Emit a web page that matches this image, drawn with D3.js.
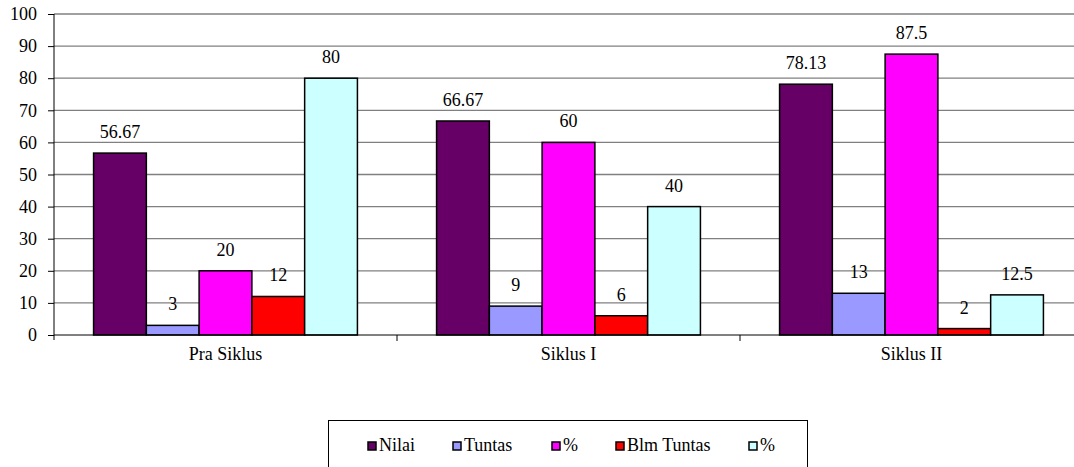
<!DOCTYPE html>
<html><head><meta charset="utf-8">
<script src="https://cdn.jsdelivr.net/npm/d3@7"></script>
</head><body style="margin:0;background:#fff"><svg id="c" width="1074" height="467" style="display:block"></svg>
<script>
const categories = ["Pra Siklus", "Siklus I", "Siklus II"];
const seriesNames = ["Nilai", "Tuntas", "%", "Blm Tuntas", "%"];
const seriesColors = ["#660066", "#9999FF", "#FF00FF", "#FF0000", "#CCFFFF"];
const nilai = [56.67, 66.67, 78.13];
const tuntas = [3, 9, 13];
const pctTuntas = [20, 60, 87.5];
const blmTuntas = [12, 6, 2];
const pctBlm = [80, 40, 12.5];
const yTicks = [0, 10, 20, 30, 40, 50, 60, 70, 80, 90, 100];
const seriesValues = [nilai, tuntas, pctTuntas, blmTuntas, pctBlm];

(function () {
const FONT = '"Liberation Serif"';
const FS = "18px";
const svg = d3.select("#c");
const pL = 54, pR = 1083, pT = 14, pB = 335;
const x0 = d3.scaleBand().domain(categories).range([pL, pR]).paddingInner(0).paddingOuter(0);
const x1 = d3.scaleBand().domain(d3.range(seriesNames.length)).range([0, x0.bandwidth()]).paddingOuter(0.75).paddingInner(0);
const y = d3.scaleLinear().domain([0, 100]).range([pB, pT]);

// gridlines
svg.append("g").selectAll("line").data(yTicks.filter(d => d > 0)).join("line")
  .attr("x1", pL).attr("x2", pR).attr("y1", d => y(d)).attr("y2", d => y(d))
  .attr("stroke", "#808080").attr("stroke-width", 1.3);

// y axis
const ya = svg.append("g").attr("transform", `translate(${pL},0)`)
  .call(d3.axisLeft(y).tickValues(yTicks).tickSize(6).tickPadding(11));
ya.attr("font-family", null).attr("font-size", null);
ya.select(".domain").remove();
ya.selectAll("line").attr("stroke", "#000");
ya.selectAll("text").style("font-family", FONT).style("font-size", FS).attr("fill", "#000");
svg.append("line").attr("x1", pL).attr("x2", pL).attr("y1", pT).attr("y2", pB + 5).attr("stroke", "#000").attr("stroke-width", 1);

// bars
const rows = [];
categories.forEach((c, ci) => seriesValues.forEach((s, si) => rows.push({c, si, v: s[ci]})));
const g = svg.append("g");
g.selectAll("rect").data(rows).join("rect")
  .attr("x", d => x0(d.c) + x1(d.si))
  .attr("y", d => y(d.v))
  .attr("width", x1.bandwidth())
  .attr("height", d => pB - y(d.v))
  .attr("fill", d => seriesColors[d.si])
  .attr("stroke", "#000").attr("stroke-width", 1.5);

// labels
g.selectAll("text").data(rows).join("text")
  .attr("x", d => x0(d.c) + x1(d.si) + x1.bandwidth() / 2)
  .attr("y", d => y(d.v) - 15)
  .attr("text-anchor", "middle")
  .style("font-family", FONT).style("font-size", FS)
  .text(d => String(d.v));

// x axis
const xa = svg.append("g").attr("transform", `translate(0,${pB})`)
  .call(d3.axisBottom(x0).tickSize(0).tickPadding(12));
xa.attr("font-family", null).attr("font-size", null);
xa.select(".domain").attr("stroke", "#000").attr("d", `M${pL},0H${pR}`);
xa.selectAll("text").style("font-family", FONT).style("font-size", FS).attr("fill", "#000");
svg.append("g").selectAll("line").data(categories.slice(1)).join("line")
  .attr("x1", d => x0(d)).attr("x2", d => x0(d)).attr("y1", pB).attr("y2", pB + 6)
  .attr("stroke", "#000");

// legend
const lg = svg.append("g");
lg.append("rect").attr("x", 328.5).attr("y", 420.5).attr("width", 479).attr("height", 60)
  .attr("fill", "none").attr("stroke", "#000").attr("stroke-width", 1);
const legX = [368, 453, 552, 616, 749];
seriesNames.forEach((n, i) => {
  lg.append("rect").attr("x", legX[i]).attr("y", 442).attr("width", 8).attr("height", 8)
    .attr("fill", seriesColors[i]).attr("stroke", "#000").attr("stroke-width", 1.5);
  lg.append("text").attr("x", legX[i] + 11).attr("y", 451)
    .style("font-family", FONT).style("font-size", FS).text(n);
});
})();
</script></body></html>
